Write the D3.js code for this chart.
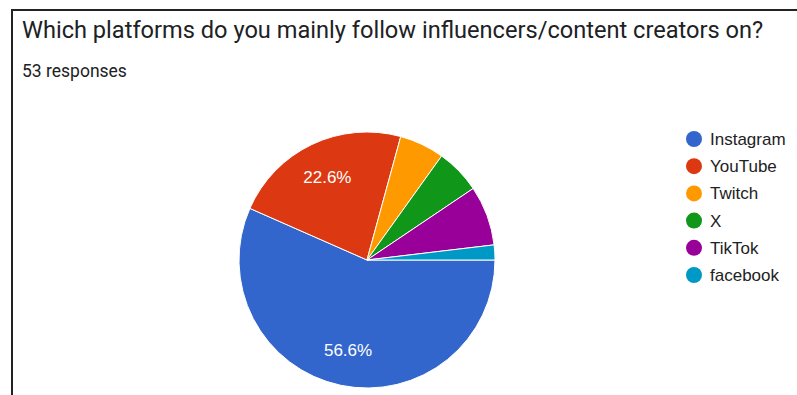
<!DOCTYPE html>
<html><head><meta charset="utf-8">
<script src="https://cdn.jsdelivr.net/npm/d3@7"></script>
<style>html,body{margin:0;padding:0;background:#fff;overflow:hidden}</style>
</head><body>
<svg id="c" width="797" height="395"></svg>
<script>
const title = "Which platforms do you mainly follow influencers/content creators on?";
const subtitle = "53 responses";
const categories = ["Instagram", "YouTube", "Twitch", "X", "TikTok", "facebook"];
const counts = [30, 12, 3, 3, 4, 1];
const colors = ["#3366cc", "#dc3912", "#ff9900", "#109618", "#990099", "#0099c6"];

const svg = d3.select("#c");
// frame
svg.append("path").attr("d", "M12,395 L12,10 L797,10").attr("fill", "none").attr("stroke", "#222").attr("stroke-width", 2);

svg.append("text").attr("x", 22).attr("y", 38).attr("font-family", "Roboto").attr("font-size", 23.6).attr("fill", "#202124").text(title);
svg.append("text").attr("x", 22).attr("y", 77).attr("font-family", "Roboto").attr("font-size", 17.5).attr("fill", "#202124").text(subtitle);

const cx = 367, cy = 260, r = 128;
const total = d3.sum(counts);
const data = categories.map((c, i) => ({name: c, value: counts[i], color: colors[i]}));
const pie = d3.pie().value(d => d.value).sort(null).startAngle(Math.PI / 2).endAngle(Math.PI / 2 + 2 * Math.PI);
const arcs = pie(data);
const arc = d3.arc().innerRadius(0).outerRadius(r);
const labelArc = d3.arc().innerRadius(r * 0.72).outerRadius(r * 0.72);
const g = svg.append("g").attr("transform", `translate(${cx},${cy})`);
g.selectAll("path.s").data(arcs).join("path").attr("class", "s")
  .attr("d", arc).attr("fill", d => d.data.color).attr("stroke", "#fff").attr("stroke-width", 1);
g.selectAll("text.l").data(arcs.filter(d => d.value / total > 0.1)).join("text").attr("class", "l")
  .attr("transform", d => `translate(${labelArc.centroid(d)})`)
  .attr("text-anchor", "middle").attr("dy", "0.35em")
  .attr("font-family", "Arial, Liberation Sans").attr("font-size", 17).attr("fill", "#fff")
  .text(d => (d.value / total * 100).toFixed(1) + "%");

const legend = svg.append("g");
const ly = d3.scalePoint().domain(categories).range([139, 275]);
categories.forEach((c, i) => {
  legend.append("circle").attr("cx", 694).attr("cy", ly(c)).attr("r", 8).attr("fill", colors[i]);
  legend.append("text").attr("x", 710).attr("y", ly(c)).attr("dy", "0.35em")
    .attr("font-family", "Arial, Liberation Sans").attr("font-size", 17).attr("fill", "#222").text(c);
});
</script>
</body></html>
